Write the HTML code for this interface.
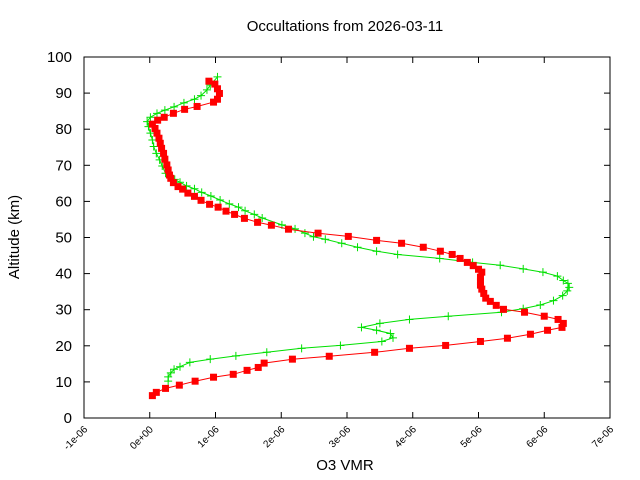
<!DOCTYPE html>
<html><head><meta charset="utf-8"><style>
body{margin:0;background:#fff;}
svg{display:block;font-family:"Liberation Sans",sans-serif;}
</style></head><body>
<svg id="chart" width="640" height="480">
<text x="345" y="31" text-anchor="middle" font-size="15">Occultations from 2026-03-11</text>
<text x="0" y="0" transform="translate(19,237) rotate(-90)" text-anchor="middle" font-size="15">Altitude (km)</text>
<text x="345" y="470" text-anchor="middle" font-size="15">O3 VMR</text>
<g id="axes"></g>
<g id="series"></g>
</svg>
<script>
const xTickVals=[-1,0,1,2,3,4,5,6,7];
const xTickLabels=["-1e-06","0e+00","1e-06","2e-06","3e-06","4e-06","5e-06","6e-06","7e-06"];
const yTickVals=[0,10,20,30,40,50,60,70,80,90,100];
const redX=[0.04,0.10,0.24,0.45,0.69,0.97,1.27,1.48,1.65,1.74,2.17,2.73,3.42,3.95,4.50,5.03,5.44,5.79,6.05,6.27,6.29,6.21,6.00,5.70,5.38,5.27,5.18,5.11,5.08,5.05,5.03,5.03,5.03,5.05,5.00,4.92,4.83,4.72,4.60,4.42,4.16,3.83,3.45,3.02,2.56,2.11,1.85,1.64,1.44,1.29,1.16,1.04,0.91,0.78,0.68,0.58,0.50,0.43,0.36,0.32,0.30,0.28,0.26,0.23,0.21,0.18,0.16,0.14,0.11,0.08,0.04,0.12,0.22,0.36,0.53,0.72,0.97,1.03,1.06,1.03,0.99,0.90];
const redY=[6.2,7.1,8.2,9.1,10.2,11.3,12.1,13.2,14.0,15.2,16.3,17.1,18.2,19.3,20.1,21.2,22.1,23.2,24.3,25.1,26.2,27.3,28.2,29.3,30.1,31.2,32.3,33.2,34.5,35.7,36.8,37.8,39.0,40.4,41.2,42.2,43.1,44.2,45.3,46.2,47.3,48.4,49.2,50.3,51.2,52.3,53.4,54.2,55.3,56.4,57.3,58.4,59.2,60.3,61.4,62.3,63.4,64.1,65.2,66.4,67.3,68.7,70.1,71.7,73.3,74.7,76.1,77.5,78.9,80.2,81.4,82.5,83.3,84.4,85.5,86.3,87.5,88.3,89.9,91.2,92.5,93.3];
const greenX=[0.28,0.28,0.32,0.37,0.46,0.61,0.92,1.31,1.78,2.31,2.90,3.53,3.70,3.66,3.45,3.22,3.50,3.95,4.54,5.35,5.68,5.94,6.14,6.28,6.35,6.38,6.36,6.29,6.20,5.98,5.68,5.33,4.91,4.41,3.77,3.45,3.16,2.92,2.67,2.49,2.36,2.21,2.01,1.71,1.59,1.45,1.35,1.21,1.07,0.93,0.79,0.68,0.56,0.46,0.38,0.24,0.19,0.15,0.10,0.06,0.04,0.01,-0.02,-0.04,0.01,0.11,0.23,0.37,0.52,0.68,0.78,0.87,0.92,1.03];
const greenY=[10.2,11.4,12.5,13.5,14.2,15.4,16.3,17.2,18.2,19.3,20.1,21.2,22.2,23.4,24.3,25.1,26.2,27.3,28.2,29.3,30.3,31.3,32.5,33.9,35.2,36.2,37.3,38.1,39.3,40.4,41.3,42.3,43.1,44.2,45.3,46.2,47.3,48.4,49.5,50.2,51.2,52.4,53.5,55.4,56.4,57.4,58.4,59.3,60.4,61.5,62.5,63.5,64.3,65.3,66.1,67.8,69.8,71.5,73.3,75.2,77.0,78.9,80.7,82.1,83.3,84.4,85.3,86.2,87.3,88.3,89.3,90.9,92.2,94.5];

const NS="http://www.w3.org/2000/svg";
const L=84,R=610,T=57,B=418;
function sx(v){return L+(v+1)/8*(R-L);}
function sy(v){return B-v/100*(B-T);}
function mk(tag,attrs,parent){const e=document.createElementNS(NS,tag);for(const k in attrs)e.setAttribute(k,attrs[k]);parent.appendChild(e);return e;}
const axes=document.getElementById('axes');
const frame=mk('rect',{x:L,y:T,width:R-L,height:B-T,fill:'none',stroke:'#000','stroke-width':1},axes);


xTickVals.forEach((v,i)=>{
  const x=sx(v);
  const t=mk('line',{x1:x,y1:B,x2:x,y2:B-6,stroke:'#000'},axes);
  
  
  const t2=mk('line',{x1:x,y1:T,x2:x,y2:T+6,stroke:'#000'},axes);
  
  
  const lb=mk('text',{x:0,y:0,transform:`translate(${x+4},${B+12}) rotate(-45)`,'text-anchor':'end','font-size':10},axes);
  lb.textContent=xTickLabels[i];
  
  
});
yTickVals.forEach(v=>{
  const y=sy(v);
  const t=mk('line',{x1:L,y1:y,x2:L+6,y2:y,stroke:'#000'},axes);
  
  
  const t2=mk('line',{x1:R,y1:y,x2:R-6,y2:y,stroke:'#000'},axes);
  
  
  const lb=mk('text',{x:L-12,y:y+5,'text-anchor':'end','font-size':15},axes);
  lb.textContent=String(v);
  
  
});
const ser=document.getElementById('series');
function pts(xs,ys){return xs.map((v,i)=>sx(v).toFixed(1)+','+sy(ys[i]).toFixed(1)).join(' ');}
const gl=mk('polyline',{points:pts(greenX,greenY),fill:'none',stroke:'#00e000','stroke-width':1},ser);


greenX.forEach((v,i)=>{
  const x=sx(v),y=sy(greenY[i]);
  const p=mk('path',{d:`M${x-4},${y}H${x+4}M${x},${y-4}V${y+4}`,stroke:'#00e000','stroke-width':1,fill:'none'},ser);
  
  
});
const rl=mk('polyline',{points:pts(redX,redY),fill:'none',stroke:'#ff0000','stroke-width':1},ser);


redX.forEach((v,i)=>{
  const x=sx(v),y=sy(redY[i]);
  const r=mk('rect',{x:x-3.5,y:y-3.5,width:7,height:7,fill:'#ff0000'},ser);
  
  
});
</script>
</body></html>
